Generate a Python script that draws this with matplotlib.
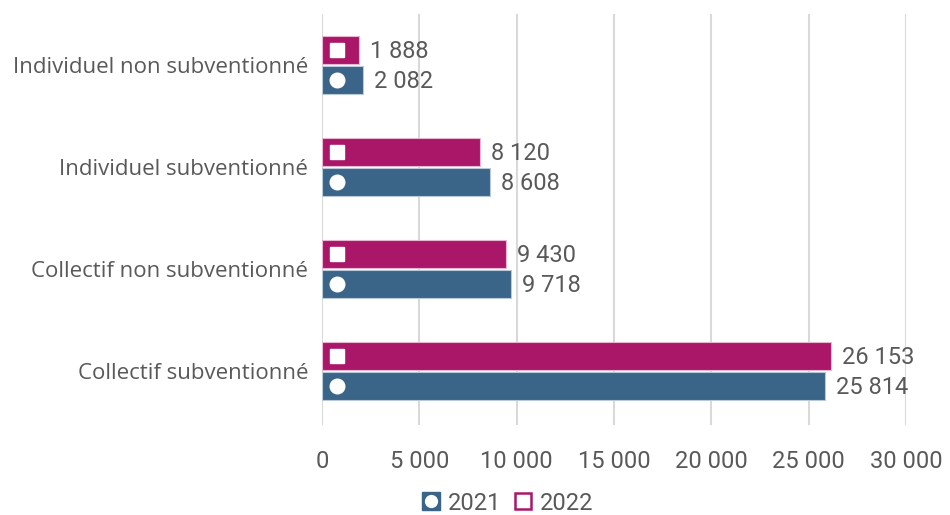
import matplotlib
matplotlib.use("Agg")
import matplotlib.pyplot as plt
import matplotlib.transforms as mtransforms
from matplotlib.lines import Line2D
from matplotlib.legend_handler import HandlerTuple
import numpy as np

categories = ["Individuel non subventionné", "Individuel subventionné",
              "Collectif non subventionné", "Collectif subventionné"]
values_2021 = [2082, 8608, 9718, 25814]
values_2022 = [1888, 8120, 9430, 26153]
labels_2021 = ["2 082", "8 608", "9 718", "25 814"]
labels_2022 = ["1 888", "8 120", "9 430", "26 153"]
xticks = [0, 5000, 10000, 15000, 20000, 25000, 30000]
xtick_labels = ["0", "5 000", "10 000", "15 000", "20 000", "25 000", "30 000"]

C2021 = "#3B6489"
C2022 = "#AA1668"
TXT = "#595959"
FONT = "Roboto"
CATFONT = "Open Sans"

W, H = 950, 515
fig = plt.figure(figsize=(W / 100, H / 100), dpi=100)
ax = fig.add_axes([322 / W, 1 - 425 / H, (906 - 322) / W, (425 - 14) / H])

y = np.arange(len(categories))
off = 0.148
h = 0.27
ax.barh(y - off, values_2022, height=h, color=C2022, edgecolor="#e9b6d2", linewidth=0.8, zorder=3)
ax.barh(y + off, values_2021, height=h, color=C2021, edgecolor="#b8c9da", linewidth=0.8, zorder=3)

# white markers near the bar base
trans = mtransforms.offset_copy(ax.transData, fig=fig, x=11, y=0, units="points")
ax.plot(np.zeros(len(y)), y - off, marker="s", ls="none", ms=10, color="white", transform=trans, zorder=4)
ax.plot(np.zeros(len(y)), y + off, marker="o", ls="none", ms=10.5, color="white", transform=trans, zorder=4)

for yi, v, lab in zip(y - off, values_2022, labels_2022):
    ax.annotate(lab, (v, yi), xytext=(8, -1), textcoords="offset points", va="center", ha="left",
                fontsize=17, color=TXT, family=FONT)
for yi, v, lab in zip(y + off, values_2021, labels_2021):
    ax.annotate(lab, (v, yi), xytext=(8, -1), textcoords="offset points", va="center", ha="left",
                fontsize=17, color=TXT, family=FONT)

ax.set_xlim(0, 30000)
ax.set_ylim(3.53, -0.5)
ax.set_xticks(xticks)
ax.set_xticklabels(xtick_labels, fontsize=17, color=TXT, family=FONT)
ax.set_yticks(y)
ax.set_yticklabels(categories, fontsize=16, color=TXT, family=CATFONT)
ax.tick_params(axis="both", length=0)
ax.tick_params(axis="x", pad=18)
ax.tick_params(axis="y", pad=10)
ax.grid(axis="x", color="#d9d9d9", linewidth=1.5, zorder=0)
for s in ax.spines.values():
    s.set_visible(False)

h21 = (Line2D([], [], marker="s", ls="none", ms=13, color=C2021),
       Line2D([], [], marker="o", ls="none", ms=8.5, color="white"))
h22 = Line2D([], [], marker="s", ls="none", ms=12, markerfacecolor="white",
             markeredgecolor=C2022, markeredgewidth=1.8)
leg = fig.legend([h21, h22], ["2021", "2022"], loc="center", bbox_to_anchor=(507 / W, 1 - 503 / H),
                 ncol=2, frameon=False, handler_map={tuple: HandlerTuple(ndivide=1, pad=0)},
                 handlelength=0.9, handletextpad=0.25, columnspacing=0.5,
                 prop={"family": FONT, "size": 17})
for t in leg.get_texts():
    t.set_color(TXT)

fig.savefig("out.png", dpi=100)
